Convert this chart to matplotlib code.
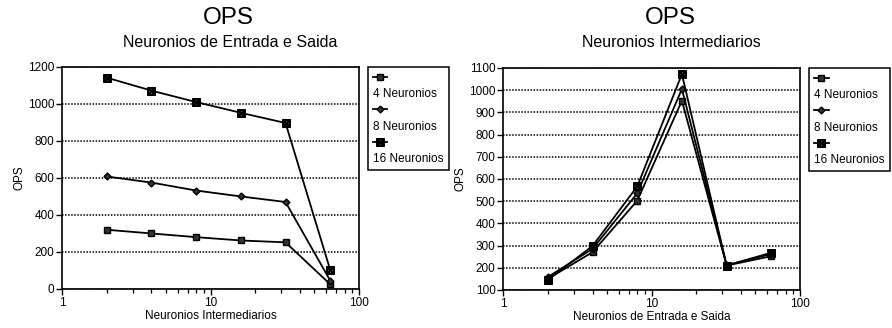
import matplotlib
matplotlib.use("Agg")
import matplotlib.pyplot as plt
from matplotlib.lines import Line2D
from matplotlib.ticker import FixedLocator, FixedFormatter, LogLocator, NullFormatter

plt.rcParams['font.family'] = ['Liberation Sans', 'DejaVu Sans']

# numero de neuronios no eixo x (escala log)
neur = [2, 4, 8, 16, 32, 64]

# OPS x neuronios intermediarios (entrada/saida fixos)
ops_int_4 = [320, 300, 280, 262, 252, 25]
ops_int_8 = [608, 575, 532, 500, 470, 45]
ops_int_16 = [1142, 1072, 1010, 952, 897, 102]

# OPS x neuronios de entrada e saida (intermediarios fixos)
ops_es_4 = [150, 270, 502, 952, 210, 252]
ops_es_8 = [158, 285, 535, 1005, 212, 262]
ops_es_16 = [145, 298, 566, 1072, 210, 268]

nomes = ['4 Neuronios', '8 Neuronios', '16 Neuronios']
box_x = r'$\boxtimes$'


def desenha(ax, series, yticks, xlabel):
    estilos = [dict(marker='s', ms=4.5),
               dict(marker='D', ms=3.5),
               dict(marker=box_x, ms=5.5)]
    linhas = []
    for ys, st in zip(series, estilos):
        l, = ax.plot(neur, ys, color='black', lw=1.3, mfc='#333333', mec='black', **st)
        linhas.append(l)
    ax.set_xscale('log')
    ax.set_xlim(1, 100)
    ax.set_ylim(yticks[0], yticks[-1])
    ax.yaxis.set_major_locator(FixedLocator(yticks))
    ax.xaxis.set_major_locator(FixedLocator([1, 10, 100]))
    ax.xaxis.set_major_formatter(FixedFormatter(['1', '10', '100']))
    ax.xaxis.set_minor_locator(LogLocator(base=10, subs=range(2, 10)))
    ax.xaxis.set_minor_formatter(NullFormatter())
    ax.tick_params(direction='out', length=4, width=1.0, labelsize=8.5, pad=1.5, colors='black')
    ax.tick_params(which='minor', direction='out', length=3, width=0.9)
    ax.grid(axis='y', color='black', lw=1.1, linestyle=(0, (1, 1.0)))
    for s in ax.spines.values():
        s.set_linewidth(1.2)
    ax.set_xlabel(xlabel, fontsize=8.5, labelpad=1)
    ax.set_ylabel('OPS', fontsize=8.5, labelpad=2)

    vazio = Line2D([], [], linestyle='none')
    hs, labs = [], []
    for l, n in zip(linhas, nomes):
        hs += [l, vazio]
        labs += ['', n]
    leg = ax.legend(hs, labs, loc='upper left', bbox_to_anchor=(1.03, 1.0),
                    borderaxespad=0, fontsize=8.5, handlelength=1.2, handletextpad=-1.2,
                    labelspacing=0.35, borderpad=0.45, fancybox=False, framealpha=1,
                    edgecolor='black', numpoints=1)
    leg.get_frame().set_linewidth(1.1)
    return ax


fig = plt.figure(figsize=(8.92, 3.28), dpi=100)
ax1 = fig.add_axes([0.0695, 0.119, 0.333, 0.677])
ax2 = fig.add_axes([0.564, 0.116, 0.333, 0.677])

desenha(ax1, [ops_int_4, ops_int_8, ops_int_16], list(range(0, 1201, 200)), 'Neuronios Intermediarios')
desenha(ax2, [ops_es_4, ops_es_8, ops_es_16], list(range(100, 1101, 100)), 'Neuronios de Entrada e Saida')

fig.text(0.256, 0.945, 'OPS', ha='center', va='center', fontsize=17.5)
fig.text(0.258, 0.869, 'Neuronios de Entrada e Saida', ha='center', va='center', fontsize=11.5)
fig.text(0.751, 0.945, 'OPS', ha='center', va='center', fontsize=17.5)
fig.text(0.753, 0.869, 'Neuronios Intermediarios', ha='center', va='center', fontsize=11.5)

fig.savefig('out.png', dpi=100)
